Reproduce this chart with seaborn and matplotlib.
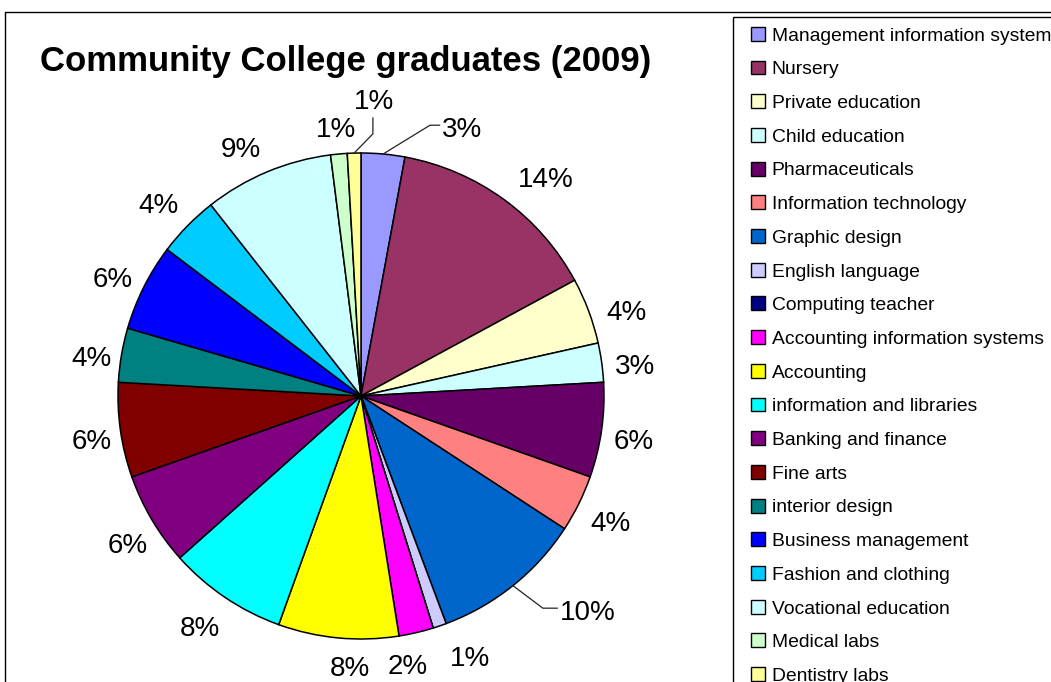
import numpy as np
import matplotlib
matplotlib.use("Agg")
import matplotlib.pyplot as plt
from matplotlib.patches import Patch, Rectangle
from matplotlib.lines import Line2D
from matplotlib.legend_handler import HandlerPatch
import seaborn as sns

# Graduates by programme, share of total (%)
programs = [
    "Management information systems", "Nursery", "Private education",
    "Child education", "Pharmaceuticals", "Information technology",
    "Graphic design", "English language", "Computing teacher",
    "Accounting information systems", "Accounting", "information and libraries",
    "Banking and finance", "Fine arts", "interior design", "Business management",
    "Fashion and clothing", "Vocational education", "Medical labs", "Dentistry labs",
]
shares = [2.9, 14.2, 4.4, 2.6, 6.3, 3.8, 10.1, 0.9, 0.0, 2.3,
          8.0, 7.9, 6.2, 6.3, 3.6, 5.8, 4.1, 8.6, 1.1, 0.9]
slice_colors = [
    "#9999FF", "#993366", "#FFFFCC", "#CCFFFF", "#660066", "#FF8080",
    "#0066CC", "#CCCCFF", "#000080", "#FF00FF", "#FFFF00", "#00FFFF",
    "#800080", "#800000", "#008080", "#0000FF", "#00CCFF", "#CCFFFF",
    "#CCFFCC", "#FFFF99",
]
title = "Community College graduates (2009)"

sns.set_theme(style="white")
plt.rcParams["font.family"] = ["Liberation Sans", "DejaVu Sans"]
plt.rcParams["text.color"] = "black"
palette = sns.color_palette(slice_colors)

W, H = 1051, 682
fig = plt.figure(figsize=(W / 100, H / 100), dpi=100)
fig.patch.set_facecolor("white")

# pie area: centre and radius in pixels
cx, cy, R = 361, 396, 243
ax = fig.add_axes([(cx - R) / W, (H - cy - R) / H, 2 * R / W, 2 * R / H])
wedges, _ = ax.pie(shares, colors=palette, startangle=90, counterclock=False,
                   radius=1.0,
                   wedgeprops=dict(edgecolor="black", linewidth=1.1))
ax.set_xlim(-1, 1)
ax.set_ylim(-1, 1)
ax.set_aspect("equal")
ax.axis("off")

total = float(np.sum(shares))
lab_fs = 20
leader_kw = dict(color="#222222", lw=0.9, clip_on=False)
renderer = fig.canvas.get_renderer()
gap = 18 / R          # clearance between rim and label box
half_h = 10 / R       # half height of the digits
drop = 6 / R          # lower labels so the digits, not the text box, are centred
# per-label shifts in pixels (right, down) where labels crowd or hug the rim
nudge = {1: (15, -3), 2: (2, 6), 3: (-4, 2), 4: (-6, 2), 5: (-3, 2),
         7: (18, 1), 9: (-17, 1), 10: (15, -3), 11: (-4, 2), 12: (9, 6),
         13: (9, 2), 14: (8, 3), 15: (3, 0), 16: (-2, -6), 17: (-12, -2),
         18: (1, -2)}


def polar(r, deg):
    t = np.deg2rad(deg)
    return r * np.cos(t), r * np.sin(t)


for i, (w, v) in enumerate(zip(wedges, shares)):
    if v <= 0:
        continue
    txt = f"{v / total * 100:.0f}%"
    mid = (w.theta1 + w.theta2) / 2.0
    if i == 0:
        x0, y0 = polar(1.0, mid)
        x1, y1 = polar(1.15, 90 - 14.3)
        ax.plot([x0, x1, x1 + 0.04], [y0, y1, y1], **leader_kw)
        ax.text(x1 + 0.05, y1 - 0.018, txt, fontsize=lab_fs, ha="left", va="center")
    elif i == len(shares) - 1:
        x0, y0 = polar(1.0, mid)
        x1, y1 = polar(1.08, 90 - 2.6)
        ax.plot([x0, x1, x1], [y0, y1, 1.145], **leader_kw)
        ax.text(x1 + 0.005, 1.21, txt, fontsize=lab_fs, ha="center", va="center")
    elif i == 6:
        x0, y0 = polar(1.0, mid)
        x1, y1 = polar(1.15, 90 - 139.4)
        ax.plot([x0, x1, x1 + 0.06], [y0, y1, y1], **leader_kw)
        ax.text(x1 + 0.072, y1 - 0.02, txt, fontsize=lab_fs, ha="left", va="center")
    else:
        t = ax.text(0, 0, txt, fontsize=lab_fs, ha="center", va="center")
        half_w = t.get_window_extent(renderer).width / 2 / R
        ux, uy = np.cos(np.deg2rad(mid)), np.sin(np.deg2rad(mid))
        x = (1 + gap) * ux + half_w * ux
        y = (1 + gap) * uy + half_h * uy - drop
        dx, dy = nudge.get(i, (0, 0))
        t.set_position((x + dx / R, y - dy / R))

fig.text(40 / W, 1 - 61 / H, title, fontsize=25, fontweight="bold",
         ha="left", va="center")

# chart-area border (runs off the right and bottom edges)
fig.add_artist(Line2D([5 / W, 5 / W, 1.0], [0.0, 1 - 12 / H, 1 - 12 / H],
                      transform=fig.transFigure, color="black", lw=1.0))


def square_key(legend, orig_handle, xdescent, ydescent, width, height, fontsize):
    side = 10.0
    return Rectangle((width - side - xdescent, (height - side) / 2 - ydescent),
                     side, side)


handles = [Patch(facecolor=c, edgecolor="black", linewidth=1.0) for c in palette]
leg = fig.legend(handles, programs, loc="upper left",
                 bbox_to_anchor=(733 / W, 1 - 17 / H), bbox_transform=fig.transFigure,
                 frameon=True, fancybox=False, edgecolor="black", framealpha=1,
                 fontsize=13.9, handlelength=1.1, handleheight=0.55,
                 handletextpad=0.35, labelspacing=0.865, borderpad=0.55,
                 borderaxespad=0,
                 handler_map={Patch: HandlerPatch(patch_func=square_key)})
leg.get_frame().set_linewidth(1.0)

fig.savefig("out.png", dpi=100)
